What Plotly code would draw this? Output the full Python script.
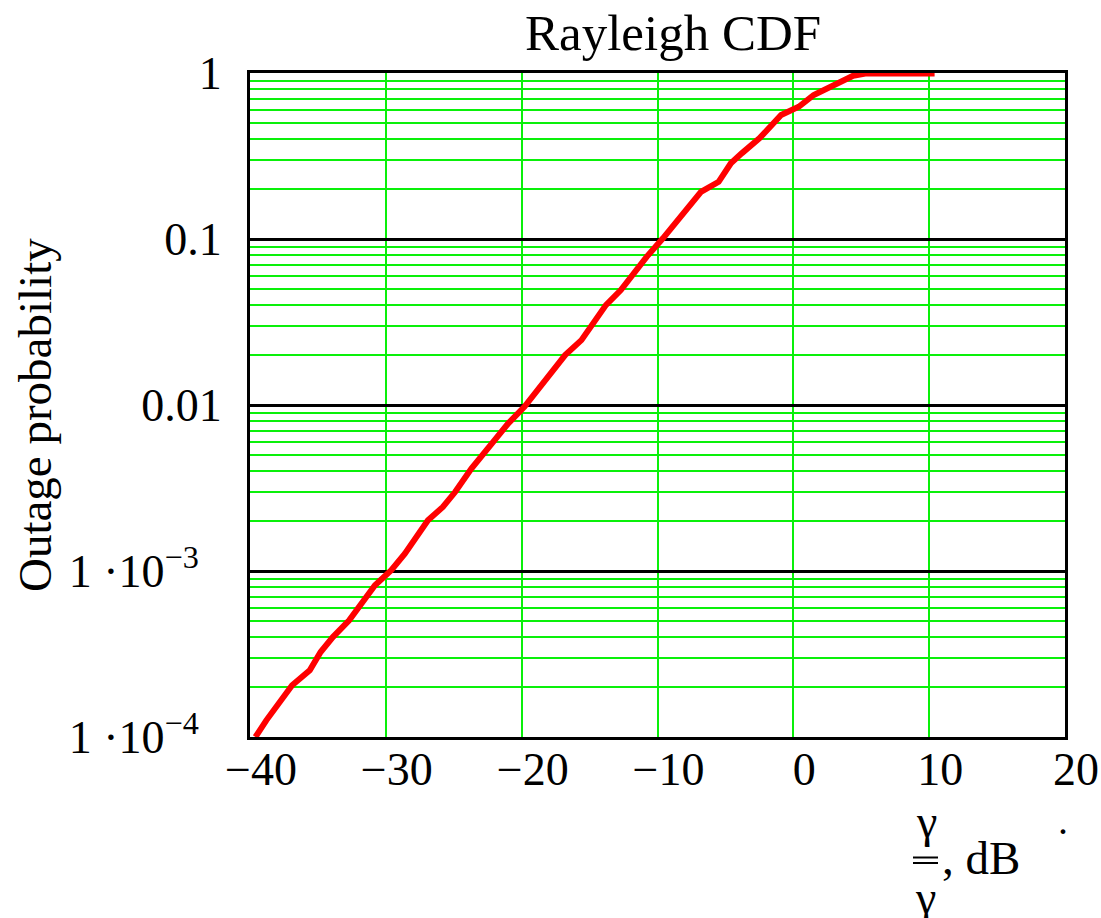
import plotly.graph_objects as go

# ---- data ----
snr_db = [-39.6, -38.8, -36.9, -35.6, -34.8, -33.9, -32.7, -31.8, -30.8, -29.6,
          -28.6, -26.9, -25.8, -24.9, -23.7, -22.2, -21.0, -19.8, -18.3, -16.8,
          -15.6, -14.8, -13.8, -12.7, -11.7, -10.8, -9.6, -8.5, -6.8, -5.5,
          -4.6, -3.8, -2.5, -0.9, 0.4, 1.5, 2.8, 4.4, 5.3, 10.4]
outage = [1.0e-4, 1.26e-4, 2.05e-4, 2.52e-4, 3.25e-4, 4.0e-4, 5.04e-4, 6.38e-4, 8.2e-4, 1.01e-3,
          1.27e-3, 2.02e-3, 2.43e-3, 2.99e-3, 4.14e-3, 5.86e-3, 7.73e-3, 9.75e-3, 1.41e-2, 2.0e-2,
          2.46e-2, 3.03e-2, 4.0e-2, 4.92e-2, 6.34e-2, 7.81e-2, 0.101, 0.130, 0.1925, 0.221,
          0.286, 0.328, 0.404, 0.558, 0.626, 0.737, 0.827, 0.963, 0.992, 0.992]

x_tickvals = [-40, -30, -20, -10, 0, 10, 20]
y_tickvals = [1e-4, 1e-3, 1e-2, 1e-1, 1]
PAD = "\u00a0\u00a0"
y_ticktext = ["1 ·10<sup>−4</sup>" + PAD, "1 ·10<sup>−3</sup>" + PAD, "0.01", "0.1", "1"]
y_minor = [m * 10.0 ** e for e in range(-4, 0) for m in range(2, 10)]

title_text = "Rayleigh CDF"
y_title = "Outage probability"

# ---- layout geometry (pixels) ----
W, H = 1101, 918
L, R, T, B = 250, 1065, 73, 737
PW, PH = R - L, B - T
FONT = "Liberation Serif, Times New Roman, serif"
GREEN = "rgb(10,240,10)"


def px(x):
    return (x - L) / PW


def py(y):
    return (B - y) / PH


fig = go.Figure()
fig.add_trace(go.Scatter(x=snr_db, y=outage, mode="lines",
                         line=dict(color="rgb(255,0,0)", width=6),
                         showlegend=False, hoverinfo="skip"))

fig.update_layout(
    width=W, height=H, autosize=False,
    margin=dict(l=L, r=W - R, t=T, b=H - B, pad=0),
    paper_bgcolor="white", plot_bgcolor="white",
    font=dict(family=FONT, size=46, color="black"),
    showlegend=False,
)

fig.update_xaxes(
    range=[-40, 20], tickmode="array", tickvals=x_tickvals, automargin=False,
    showgrid=True, gridcolor=GREEN, gridwidth=1.5,
    zeroline=False, showline=True, mirror=True, linecolor="black", linewidth=3,
    ticks="", ticklabelstandoff=-10, ticklabelshift=11,
    tickfont=dict(family=FONT, size=46, color="black"),
)

fig.update_yaxes(
    type="log", range=[-4, 0], tickmode="array", tickvals=y_tickvals, ticktext=y_ticktext,
    automargin=False,
    showgrid=True, gridcolor="black", gridwidth=2.5,
    minor=dict(tickmode="array", tickvals=y_minor, showgrid=True, gridcolor=GREEN, gridwidth=1.5, ticks=""),
    zeroline=False, showline=True, mirror=True, linecolor="black", linewidth=3,
    ticks="", ticklabelstandoff=16,
    tickfont=dict(family=FONT, size=46, color="black"),
)

ann = []
ann.append(dict(text=title_text, x=px(673), y=py(33), xref="paper", yref="paper",
                xanchor="center", yanchor="middle", showarrow=False,
                font=dict(family=FONT, size=51, color="black")))
ann.append(dict(text=y_title, x=px(35), y=py(415), xref="paper", yref="paper",
                xanchor="center", yanchor="middle", textangle=-90, showarrow=False,
                font=dict(family=FONT, size=47, color="black")))
# x-axis label: gamma over gamma-bar, dB
ann.append(dict(text="γ", x=px(926), y=py(821), xref="paper", yref="paper",
                xanchor="center", yanchor="middle", showarrow=False,
                font=dict(family=FONT, size=46, color="black")))
ann.append(dict(text="γ", x=px(925), y=py(898), xref="paper", yref="paper",
                xanchor="center", yanchor="middle", showarrow=False,
                font=dict(family=FONT, size=46, color="black")))
ann.append(dict(text=", dB", x=px(940), y=py(858), xref="paper", yref="paper",
                xanchor="left", yanchor="middle", showarrow=False,
                font=dict(family=FONT, size=47, color="black")))
ann.append(dict(text=".", x=px(1063), y=py(820), xref="paper", yref="paper",
                xanchor="center", yanchor="middle", showarrow=False,
                font=dict(family=FONT, size=40, color="black")))
fig.update_layout(annotations=ann)

shapes = []
for yy in (857.5, 863):
    shapes.append(dict(type="line", xref="paper", yref="paper",
                       x0=px(913), x1=px(938), y0=py(yy), y1=py(yy),
                       line=dict(color="black", width=2)))
fig.update_layout(shapes=shapes)

fig.write_html("out.html")
